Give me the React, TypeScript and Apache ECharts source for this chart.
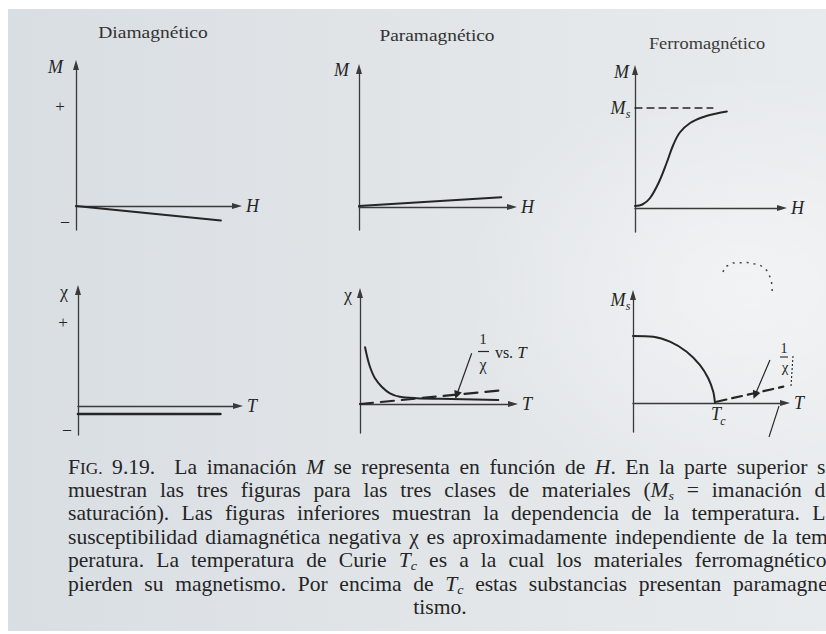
import React, { useEffect, useRef } from 'react';
import * as echarts from 'echarts';

const INK = '#252525';
const AXIS_INK = '#3a3a3a';
const SERIF = 'Liberation Serif';

// ---- Top row: magnetization M versus applied field H ----
const diaMH: number[][] = [[0, 0], [9.0, -1.2]];
const paraMH: number[][] = [[0, 0.08], [9.3, 0.85]];
const ferroMH: number[][] = [
  [0, 0.2], [0.5, 0.35], [1.0, 0.95], [1.6, 2.5], [2.15, 4.5], [2.6, 6.3],
  [3.05, 7.55], [3.75, 8.5], [4.65, 9.1], [5.55, 9.45], [6.25, 9.65],
];
const ferroSaturation: number[][] = [[0, 10], [5.3, 10]];

// ---- Bottom row: temperature dependence ----
const diaChiT: number[][] = [[0, -1.1], [8.9, -1.1]];
const paraChiT: number[][] = [
  [0.33, 7.82], [0.44, 6.76], [0.65, 5.14], [0.98, 3.54], [1.42, 2.39],
  [1.96, 1.48], [2.61, 1.0], [3.7, 0.8], [5.23, 0.72], [9.04, 0.55],
];
const paraInvChiT: number[][] = [[0, 0], [9.05, 1.84]];
const paraArrow: number[][] = [[7.3, 7.0], [6.32, 1.24]];
const ferroMsT: number[][] = [
  [0, 9.24], [1.34, 9.14], [2.43, 8.46], [3.53, 7.08], [4.41, 5.24],
  [4.95, 3.41], [5.28, 1.56], [5.39, 0.04],
];
const ferroInvChiT: number[][] = [[5.5, 0.18], [9.89, 2.25]];
const ferroArrow: number[][] = [[9.01, 5.93], [8.03, 1.1]];

const panelTitles = ['Diamagnético', 'Paramagnético', 'Ferromagnético'];
const xNames = ['H', 'H', 'H', 'T', 'T', 'T'];
const yNames = ['M', 'M', 'M', 'χ', 'χ', ''];

const CAPTION_LINES = [
  'F^IG. 9.19.  La imanación *M* se representa en función de *H*. En la parte superior se',
  'muestran las tres figuras para las tres clases de materiales (*M*_s = imanación de',
  'saturación). Las figuras inferiores muestran la dependencia de la temperatura. La',
  'susceptibilidad diamagnética negativa χ es aproximadamente independiente de la tem-',
  'peratura. La temperatura de Curie *T*_c es a la cual los materiales ferromagnéticos',
  'pierden su magnetismo. Por encima de *T*_c estas substancias presentan paramagne-',
  'tismo.',
];

// Plot frames for the six small diagrams
const panels = [
  { left: 76, top: 65, width: 161, height: 165, yMin: -2, yMax: 11.75, nameGap: -2, namePad: 13 },
  { left: 359, top: 69, width: 153, height: 161, yMin: -2, yMax: 12, nameGap: -1, namePad: 10 },
  { left: 635, top: 70, width: 147, height: 162, yMin: -2.4, yMax: 13.8, nameGap: -2, namePad: 6 },
  { left: 78, top: 290, width: 160, height: 145, yMin: -4, yMax: 16, nameGap: -2, namePad: 10 },
  { left: 360, top: 293, width: 153, height: 140, yMin: -4, yMax: 15.31, nameGap: -2, namePad: 8 },
  { left: 633, top: 295, width: 152, height: 137, yMin: -4, yMax: 14.9, nameGap: -4, namePad: 4 },
];

type Seg = { text: string; kind: 'n' | 'i' | 'sub' | 'sc' };
const CAP_SIZE = 20;
const CAP_SX = 1.08;
const CAP_Y = [467, 490, 513, 537, 560, 584, 607];
const CAP_LEFT = 68;
const CAP_RIGHT = 835;

function segFont(k: Seg['kind']): string {
  if (k === 'i') return `italic ${CAP_SIZE}px ${SERIF}`;
  if (k === 'sub') return `italic 13px ${SERIF}`;
  if (k === 'sc') return `16px ${SERIF}`;
  return `${CAP_SIZE}px ${SERIF}`;
}
const segDy: Record<Seg['kind'], number> = { n: 0, i: 0, sub: 6, sc: 1.3 };

function parseWord(w: string): Seg[] {
  const segs: Seg[] = [];
  const re = /\*([^*]+)\*|_(\w)|\^(\S+)|([^*_^]+)/g;
  let m: RegExpExecArray | null;
  while ((m = re.exec(w))) {
    if (m[1]) segs.push({ text: m[1], kind: 'i' });
    else if (m[2]) segs.push({ text: m[2], kind: 'sub' });
    else if (m[3]) segs.push({ text: m[3], kind: 'sc' });
    else segs.push({ text: m[4], kind: 'n' });
  }
  return segs;
}

function captionElements(): any[] {
  const ctx = document.createElement('canvas').getContext('2d')!;
  const measure = (s: Seg) => {
    ctx.font = segFont(s.kind);
    return ctx.measureText(s.text).width * CAP_SX;
  };
  const els: any[] = [];
  CAPTION_LINES.forEach((line, li) => {
    const y = CAP_Y[li];
    const parts = line.split(' ');
    const words: { segs: Seg[]; w: number; gap: number }[] = [];
    let pending = 0;
    parts.forEach((p) => {
      if (p === '') { pending += 1; return; }
      const segs = parseWord(p);
      const w = segs.reduce((a, s) => a + measure(s), 0);
      words.push({ segs, w, gap: words.length ? 1 + pending : 0 });
      pending = 0;
    });
    const total = words.reduce((a, w) => a + w.w, 0);
    const weights = words.reduce((a, w) => a + w.gap, 0);
    const last = li === CAPTION_LINES.length - 1;
    const space = CAP_SIZE * 0.25;
    let gapUnit = space;
    let x = CAP_LEFT;
    if (last) {
      x = 440 - (total + weights * space) / 2;
    } else if (weights > 0) {
      gapUnit = (CAP_RIGHT - CAP_LEFT - total) / weights;
    }
    words.forEach((w) => {
      x += w.gap * gapUnit;
      w.segs.forEach((s) => {
        els.push({
          type: 'text',
          x,
          y: y + segDy[s.kind],
          scaleX: CAP_SX,
          silent: true,
          style: {
            text: s.text,
            font: segFont(s.kind),
            fill: INK,
            textAlign: 'left',
            textVerticalAlign: 'middle',
          },
        });
        x += measure(s);
      });
    });
  });
  return els;
}

function label(text: string, x: number, y: number, opts: any = {}): any {
  const { size = 17, italic = false, align = 'center', scaleX = 1, fill = INK } = opts;
  return {
    type: 'text',
    x,
    y,
    scaleX,
    silent: true,
    style: {
      text,
      font: `${italic ? 'italic ' : ''}${size}px ${SERIF}`,
      fill,
      textAlign: align,
      textVerticalAlign: 'middle',
    },
  };
}

function seg(x1: number, y1: number, x2: number, y2: number, width = 1.2, dash?: number[]): any {
  return {
    type: 'line',
    silent: true,
    shape: { x1, y1, x2, y2 },
    style: { stroke: INK, lineWidth: width, lineDash: dash },
  };
}

function lineSeries(i: number, data: number[][], extra: any = {}): any {
  const { width = 2, dash, smooth = false, markLine } = extra;
  return {
    type: 'line',
    xAxisIndex: i,
    yAxisIndex: i,
    data,
    symbol: 'none',
    showSymbol: false,
    silent: true,
    smooth,
    lineStyle: { color: INK, width, type: dash || 'solid', cap: 'round', join: 'round' },
    markLine,
  };
}

function arrowMark(pts: number[][]): any {
  return {
    silent: true,
    symbol: ['none', 'triangle'],
    symbolSize: 8,
    label: { show: false },
    lineStyle: { color: INK, width: 1.2, type: 'solid' },
    emphasis: { disabled: true },
    data: [[{ coord: pts[0] }, { coord: pts[1] }]],
  };
}

function buildOption(): any {
  const grid = panels.map((p) => ({
    left: p.left, top: p.top, width: p.width, height: p.height,
    containLabel: false, outerBoundsMode: 'none',
  }));
  const axisLine = {
    show: true,
    onZero: true,
    symbol: ['none', 'triangle'],
    symbolSize: [6, 10],
    lineStyle: { color: AXIS_INK, width: 1.3 },
  };
  const xAxis = panels.map((p, i) => ({
    type: 'value', gridIndex: i, min: 0, max: 10,
    axisLine, axisTick: { show: false }, axisLabel: { show: false }, splitLine: { show: false },
    name: xNames[i], nameLocation: 'end', nameGap: 9, nameMoveOverlap: false,
    nameTextStyle: {
      fontFamily: SERIF, fontStyle: 'italic', fontSize: 18, color: INK,
      align: 'left', verticalAlign: 'middle',
    },
  }));
  const yAxis = panels.map((p, i) => ({
    type: 'value', gridIndex: i, min: p.yMin, max: p.yMax,
    axisLine, axisTick: { show: false }, axisLabel: { show: false }, splitLine: { show: false },
    name: yNames[i], nameLocation: 'end', nameGap: p.nameGap, nameMoveOverlap: false,
    nameTextStyle: {
      fontFamily: SERIF, fontStyle: yNames[i] === 'χ' ? 'normal' : 'italic', fontSize: 18, color: INK,
      align: 'right', verticalAlign: 'middle', padding: [0, p.namePad, 0, 0],
    },
  }));

  const series = [
    lineSeries(0, diaMH, { width: 2 }),
    lineSeries(1, paraMH, { width: 2 }),
    lineSeries(2, ferroMH, { width: 2, smooth: 0.35 }),
    lineSeries(2, ferroSaturation, { width: 1.3, dash: [7, 5] }),
    lineSeries(3, diaChiT, { width: 2.6 }),
    lineSeries(4, paraChiT, { width: 2, smooth: 0.35 }),
    lineSeries(4, paraInvChiT, { width: 2.2, dash: [13, 8], markLine: arrowMark(paraArrow) }),
    lineSeries(5, ferroMsT, { width: 2, smooth: 0.3 }),
    lineSeries(5, ferroInvChiT, { width: 2.2, dash: [10, 6], markLine: arrowMark(ferroArrow) }),
  ];

  const graphic: any[] = [
    {
      type: 'rect', z: -100, silent: true,
      shape: { x: 8, y: 9, width: 818, height: 622 },
      style: {
        fill: {
          type: 'linear', x: 0, y: 0, x2: 1, y2: 0,
          colorStops: [
            { offset: 0, color: '#d9dee3' },
            { offset: 0.5, color: '#e1e5e8' },
            { offset: 1, color: '#e8ebed' },
          ],
        },
      },
    },
    {
      type: 'rect', z: -99, silent: true,
      shape: { x: 8, y: 9, width: 818, height: 622 },
      style: {
        fill: {
          type: 'radial', x: 0.9, y: 0.45, r: 0.35,
          colorStops: [
            { offset: 0, color: 'rgba(255,255,255,0.45)' },
            { offset: 1, color: 'rgba(255,255,255,0)' },
          ],
        },
      },
    },
    label(panelTitles[0], 153, 32, { size: 17, scaleX: 1.15, fill: '#333' }),
    label(panelTitles[1], 437, 35, { size: 17, scaleX: 1.14, fill: '#333' }),
    label(panelTitles[2], 707, 43, { size: 17, scaleX: 1.08, fill: '#3a3a3a' }),
    // sign marks on the left axes
    label('+', 60, 106, { size: 17 }),
    label('–', 65, 220, { size: 16 }),
    label('+', 63, 322, { size: 17 }),
    label('–', 67, 428, { size: 16 }),
    // saturation level and Ms axis
    label('M', 618, 108, { size: 18, italic: true }),
    label('s', 628, 114, { size: 12, italic: true }),
    label('M', 618, 300, { size: 18, italic: true }),
    label('s', 628, 306, { size: 12, italic: true }),
    // Curie temperature
    label('T', 716, 414, { size: 18, italic: true }),
    label('c', 723, 421, { size: 12, italic: true }),
    // 1/χ vs. T annotation
    label('1', 483, 339, { size: 15 }),
    seg(478, 351.5, 489, 351.5, 1.2),
    label('χ', 483, 364, { size: 16 }),
    label('vs.', 504, 352, { size: 16 }),
    label('T', 522, 352, { size: 17, italic: true }),
    // 1/χ beside the ferromagnetic dashed line
    label('1', 784, 348, { size: 14 }),
    seg(780, 357, 788, 357, 1.1),
    label('χ', 785, 367, { size: 15 }),
    seg(793, 356, 791, 386, 1.1, [2, 2]),
    // stray pen marks
    {
      type: 'polyline', silent: true,
      shape: { points: [[723, 272], [725, 267], [733, 263], [747, 262.5], [760, 265], [768, 271.5], [771.5, 281.5], [772.5, 295]] },
      style: { stroke: '#444', lineWidth: 1.5, fill: 'none', lineDash: [2, 5] },
    },
    seg(779, 406, 769, 437, 1.1),
    ...captionElements(),
  ];

  return {
    animation: false,
    backgroundColor: '#ffffff',
    grid,
    xAxis,
    yAxis,
    series,
    graphic,
  };
}

export default function App() {
  const ref = useRef<HTMLDivElement>(null);
  useEffect(() => {
    const chart = echarts.init(ref.current!, null, { renderer: 'svg' });
    chart.setOption(buildOption());
    return () => chart.dispose();
  }, []);
  return (
    <div
      ref={ref}
      style={{ position: 'fixed', left: 0, top: 0, width: 826, height: 634 }}
    />
  );
}
